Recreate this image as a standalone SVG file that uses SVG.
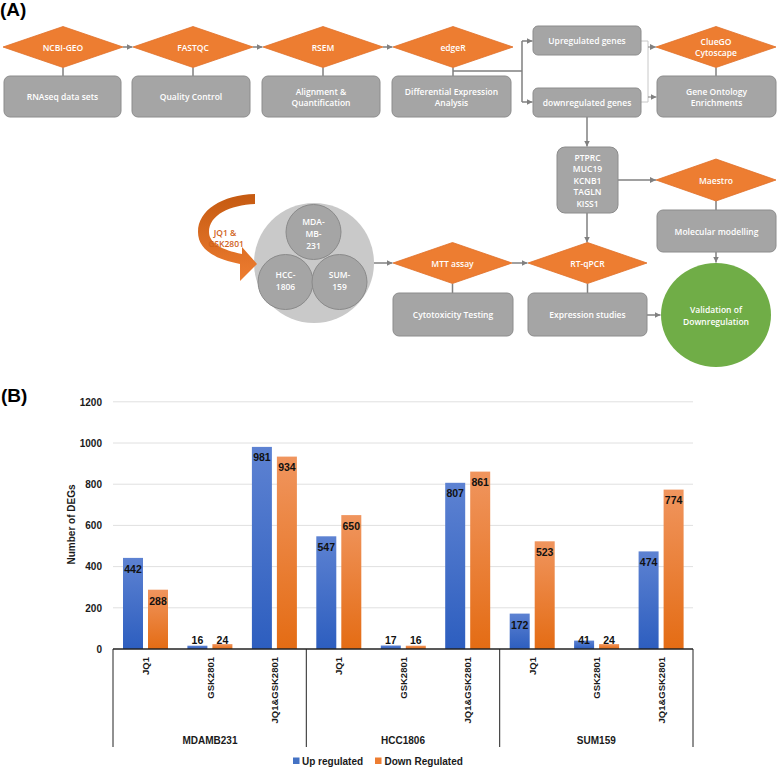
<svg xmlns="http://www.w3.org/2000/svg" width="777" height="768" viewBox="0 0 777 768">
<style>
.dia{fill:#ed7d31;stroke:#e0702a;stroke-width:0.8}
.box{fill:#a5a5a5;stroke:#8c8c8c;stroke-width:1}
.ft{font-family:"Open Sans","Liberation Sans",sans-serif;font-weight:600;font-size:8.5px;fill:#ffffff;text-anchor:middle;dominant-baseline:central}
.con{fill:none;stroke:#808080;stroke-width:1.5}
.conl{fill:none;stroke:#c8c8c8;stroke-width:1}
.lbl{font-family:"Liberation Sans",Arial,sans-serif;font-weight:bold;font-size:19px;fill:#000}
.ax{font-family:"Liberation Sans",Arial,sans-serif;font-weight:bold;font-size:10px;fill:#1a1a1a}
.val{font-family:"Liberation Sans",Arial,sans-serif;font-weight:bold;font-size:10.5px;fill:#111;text-anchor:middle}
.grid{stroke:#e0e0e0;stroke-width:1}
.sep{stroke:#222;stroke-width:1}
.up{fill:url(#gb)}
.dn{fill:url(#go)}
</style>
<defs>
<marker id="ah" viewBox="0 0 10 10" refX="10" refY="5" markerWidth="6" markerHeight="6" markerUnits="userSpaceOnUse" orient="auto">
<path d="M0 0 L10 5 L0 10 Z" fill="#808080"/>
</marker>
<linearGradient id="gb" x1="0" y1="0" x2="0" y2="1">
<stop offset="0" stop-color="#5d82d2"/><stop offset="1" stop-color="#2d5ebf"/>
</linearGradient>
<linearGradient id="go" x1="0" y1="0" x2="0" y2="1">
<stop offset="0" stop-color="#f0955e"/><stop offset="1" stop-color="#e46c14"/>
</linearGradient>
<linearGradient id="garc" x1="0" y1="0" x2="0" y2="1">
<stop offset="0" stop-color="#c55a11"/><stop offset="1" stop-color="#ee7d31"/>
</linearGradient>
</defs>

<text class="lbl" x="0" y="16">(A)</text>
<text class="lbl" x="1" y="402">(B)</text>

<g id="connectors">
<path class="con" d="M123 47 H132.5" marker-end="url(#ah)"/>
<path class="con" d="M253 47 H262.5" marker-end="url(#ah)"/>
<path class="con" d="M383 47 H392.5" marker-end="url(#ah)"/>
<path class="con" d="M63 67.5 V76 M193 67.5 V76 M323 67.5 V76 M453 67.5 V76 M716 67.5 V76 M716 201 V210 M452.5 283.5 V293 M587.5 283.5 V293"/>
<path class="con" d="M453 71 H522 M522 41 V102"/>
<path class="con" d="M522 41 H532.5" marker-end="url(#ah)"/>
<path class="con" d="M522 102 H532.5" marker-end="url(#ah)"/>
<path class="conl" d="M641 41 H648 V102 H641"/>
<path class="con" style="stroke-width:1" d="M648 47 H656" marker-end="url(#ah)"/>
<path class="con" style="stroke-width:1" d="M648 97 H656.5" marker-end="url(#ah)"/>
<path class="con" d="M587 117 V146.5" marker-end="url(#ah)"/>
<path class="con" d="M618 180 H656" marker-end="url(#ah)"/>
<path class="con" d="M587 213 V242.5" marker-end="url(#ah)"/>
<path class="con" d="M716 252 V262.5" marker-end="url(#ah)"/>
<path class="con" d="M647 315 H660.5" marker-end="url(#ah)"/>
<path class="con" d="M374 263 H392.5" marker-end="url(#ah)"/>
<path class="con" d="M512 263 H527.5" marker-end="url(#ah)"/>
</g>

<g id="ncbi"><path class="dia" d="M3 47 L63 26.5 L123 47 L63 67.5 Z"/><text class="ft" x="63" y="47">NCBI-GEO</text></g>
<g id="rnaseq"><rect class="box" x="4" y="76" width="117" height="41" rx="6"/><text class="ft" x="62.5" y="96.5">RNAseq data sets</text></g>
<g id="fastqc"><path class="dia" d="M133 47 L193 26.5 L253 47 L193 67.5 Z"/><text class="ft" x="193" y="47">FASTQC</text></g>
<g id="qc"><rect class="box" x="132" y="76" width="118" height="41" rx="6"/><text class="ft" x="191" y="96.5">Quality Control</text></g>
<g id="rsem"><path class="dia" d="M263 47 L323 26.5 L383 47 L323 67.5 Z"/><text class="ft" x="323" y="47">RSEM</text></g>
<g id="align"><rect class="box" x="262" y="76" width="118" height="41" rx="6"/><text class="ft" x="321" y="91">Alignment &amp;</text><text class="ft" x="321" y="102.5">Quantification</text></g>
<g id="edger"><path class="dia" d="M393 47 L453 26.5 L513 47 L453 67.5 Z"/><text class="ft" x="453" y="47">edgeR</text></g>
<g id="dea"><rect class="box" x="392" y="76" width="119" height="41" rx="6"/><text class="ft" x="451.5" y="91">Differential Expression</text><text class="ft" x="451.5" y="102.5">Analysis</text></g>
<g id="upgenes"><rect class="box" x="533" y="26" width="108" height="29" rx="5"/><text class="ft" x="587" y="40.5">Upregulated genes</text></g>
<g id="downgenes"><rect class="box" x="533" y="88" width="108" height="29" rx="5"/><text class="ft" x="587" y="102.5">downregulated genes</text></g>
<g id="cluego"><path class="dia" d="M656 47 L716 26.5 L776 47 L716 67.5 Z"/><text class="ft" x="716" y="41">ClueGO</text><text class="ft" x="716" y="52.5">Cytoscape</text></g>
<g id="go"><rect class="box" x="657" y="76" width="119" height="41" rx="6"/><text class="ft" x="716.5" y="91">Gene Ontology</text><text class="ft" x="716.5" y="102.5">Enrichments</text></g>
<g id="genes"><rect class="box" x="557" y="147" width="61" height="66" rx="8"/>
<text class="ft" x="587.5" y="157">PTPRC</text><text class="ft" x="587.5" y="168.5">MUC19</text><text class="ft" x="587.5" y="180">KCNB1</text><text class="ft" x="587.5" y="191.5">TAGLN</text><text class="ft" x="587.5" y="203">KISS1</text></g>
<g id="maestro"><path class="dia" d="M656 180 L716 159 L776 180 L716 201 Z"/><text class="ft" x="716" y="180">Maestro</text></g>
<g id="molmod"><rect class="box" x="657" y="210" width="119" height="42" rx="6"/><text class="ft" x="716.5" y="231">Molecular modelling</text></g>
<g id="mtt"><path class="dia" d="M393 263 L452.5 242.5 L512 263 L452.5 283.5 Z"/><text class="ft" x="452.5" y="263">MTT assay</text></g>
<g id="cyto"><rect class="box" x="393" y="293" width="120" height="43" rx="6"/><text class="ft" x="453" y="314.5">Cytotoxicity Testing</text></g>
<g id="rtqpcr"><path class="dia" d="M528 263 L587.5 242.5 L647 263 L587.5 283.5 Z"/><text class="ft" x="587.5" y="263">RT-qPCR</text></g>
<g id="expr"><rect class="box" x="528" y="293" width="119" height="43" rx="6"/><text class="ft" x="587.5" y="314.5">Expression studies</text></g>
<g id="validation"><ellipse cx="716" cy="315" rx="55" ry="52" fill="#70ad47"/><text class="ft" x="716" y="309">Validation of</text><text class="ft" x="716" y="321">Downregulation</text></g>

<g id="cells">
<circle cx="314" cy="263" r="60" fill="#c9c9c9"/>
<circle cx="313.5" cy="232" r="27.5" fill="#a5a5a5" stroke="#8a8a8a" stroke-width="1"/>
<circle cx="285.5" cy="282" r="27.5" fill="#a5a5a5" stroke="#8a8a8a" stroke-width="1"/>
<circle cx="339.5" cy="282" r="27.5" fill="#a5a5a5" stroke="#8a8a8a" stroke-width="1"/>
<text class="ft" x="313.5" y="221">MDA-</text><text class="ft" x="313.5" y="233">MB-</text><text class="ft" x="313.5" y="245">231</text>
<text class="ft" x="285.5" y="274">HCC-</text><text class="ft" x="285.5" y="286">1806</text>
<text class="ft" x="339.5" y="274">SUM-</text><text class="ft" x="339.5" y="286">159</text>
</g>
<g id="treatment">
<path d="M255 194 C222 195 198 210 198 232 C198 249 214 259 240 264 L240 281 L257 264 L242 247 L242 254 C222 250 209 243 209 232 C209 215 230 205 255 204 Z" fill="url(#garc)"/>
<text class="ft" style="fill:#d0621b" x="225" y="232">JQ1 &amp;</text>
<text class="ft" style="fill:#d0621b" x="226" y="243.5">GSK2801</text>
</g>

<g id="chart">
<g class="grid">
<line x1="113" y1="401.8" x2="693" y2="401.8"/>
<line x1="113" y1="443" x2="693" y2="443"/>
<line x1="113" y1="484.2" x2="693" y2="484.2"/>
<line x1="113" y1="525.4" x2="693" y2="525.4"/>
<line x1="113" y1="566.6" x2="693" y2="566.6"/>
<line x1="113" y1="607.8" x2="693" y2="607.8"/>
</g>
<g class="ax" text-anchor="end">
<text x="102" y="405.5">1200</text><text x="102" y="446.7">1000</text><text x="102" y="487.9">800</text><text x="102" y="529.1">600</text><text x="102" y="570.3">400</text><text x="102" y="611.5">200</text><text x="102" y="652.7">0</text>
</g>
<text class="ax" transform="translate(74.5 524.5) rotate(-90)" text-anchor="middle">Number of DEGs</text>

<g id="bars">
<rect class="up" x="123" y="557.9" width="20" height="91.1"/><rect class="dn" x="148" y="589.7" width="20" height="59.3"/>
<rect class="up" x="187.4" y="645.7" width="20" height="3.3"/><rect class="dn" x="212.4" y="644.1" width="20" height="4.9"/>
<rect class="up" x="251.9" y="446.9" width="20" height="202.1"/><rect class="dn" x="276.9" y="456.6" width="20" height="192.4"/>
<rect class="up" x="316.3" y="536.3" width="20" height="112.7"/><rect class="dn" x="341.3" y="515.1" width="20" height="133.9"/>
<rect class="up" x="380.8" y="645.5" width="20" height="3.5"/><rect class="dn" x="405.8" y="645.7" width="20" height="3.3"/>
<rect class="up" x="445.2" y="482.8" width="20" height="166.2"/><rect class="dn" x="470.2" y="471.6" width="20" height="177.4"/>
<rect class="up" x="509.7" y="613.6" width="20" height="35.4"/><rect class="dn" x="534.7" y="541.3" width="20" height="107.7"/>
<rect class="up" x="574.1" y="640.6" width="20" height="8.4"/><rect class="dn" x="599.1" y="644.1" width="20" height="4.9"/>
<rect class="up" x="638.6" y="551.4" width="20" height="97.6"/><rect class="dn" x="663.6" y="489.6" width="20" height="159.4"/>
</g>
<g id="values">
<text class="val" x="133" y="573">442</text><text class="val" x="158" y="605">288</text>
<text class="val" x="197.4" y="644">16</text><text class="val" x="222.4" y="644">24</text>
<text class="val" x="261.9" y="461">981</text><text class="val" x="286.9" y="471">934</text>
<text class="val" x="326.3" y="551">547</text><text class="val" x="351.3" y="530">650</text>
<text class="val" x="390.8" y="644">17</text><text class="val" x="415.8" y="644">16</text>
<text class="val" x="455.2" y="497">807</text><text class="val" x="480.2" y="486">861</text>
<text class="val" x="519.7" y="628.5">172</text><text class="val" x="544.7" y="556">523</text>
<text class="val" x="584.1" y="644">41</text><text class="val" x="609.1" y="644">24</text>
<text class="val" x="648.6" y="566">474</text><text class="val" x="673.6" y="504">774</text>
</g>

<line x1="113" y1="649" x2="693" y2="649" stroke="#222" stroke-width="1.3"/>
<g class="sep">
<line x1="113" y1="649" x2="113" y2="747"/><line x1="306.3" y1="649" x2="306.3" y2="747"/><line x1="499.7" y1="649" x2="499.7" y2="747"/><line x1="693" y1="649" x2="693" y2="747"/>
</g>
<g class="ax" style="font-size:9.5px" text-anchor="end">
<text transform="translate(149 657) rotate(-90)">JQ1</text>
<text transform="translate(213.5 657) rotate(-90)">GSK2801</text>
<text transform="translate(278 657) rotate(-90)">JQ1&amp;GSK2801</text>
<text transform="translate(342.4 657) rotate(-90)">JQ1</text>
<text transform="translate(406.9 657) rotate(-90)">GSK2801</text>
<text transform="translate(471.3 657) rotate(-90)">JQ1&amp;GSK2801</text>
<text transform="translate(535.8 657) rotate(-90)">JQ1</text>
<text transform="translate(600.2 657) rotate(-90)">GSK2801</text>
<text transform="translate(664.7 657) rotate(-90)">JQ1&amp;GSK2801</text>
</g>
<g class="ax" text-anchor="middle">
<text x="210" y="744">MDAMB231</text><text x="403" y="744">HCC1806</text><text x="596.3" y="744">SUM159</text>
</g>
<g id="legend">
<rect x="293" y="757.5" width="6.5" height="6.5" fill="#4472c4"/>
<text class="ax" x="302" y="765">Up regulated</text>
<rect x="375" y="757.5" width="6.5" height="6.5" fill="#ed7d31"/>
<text class="ax" x="384.5" y="765">Down Regulated</text>
</g>
</g>
</svg>
